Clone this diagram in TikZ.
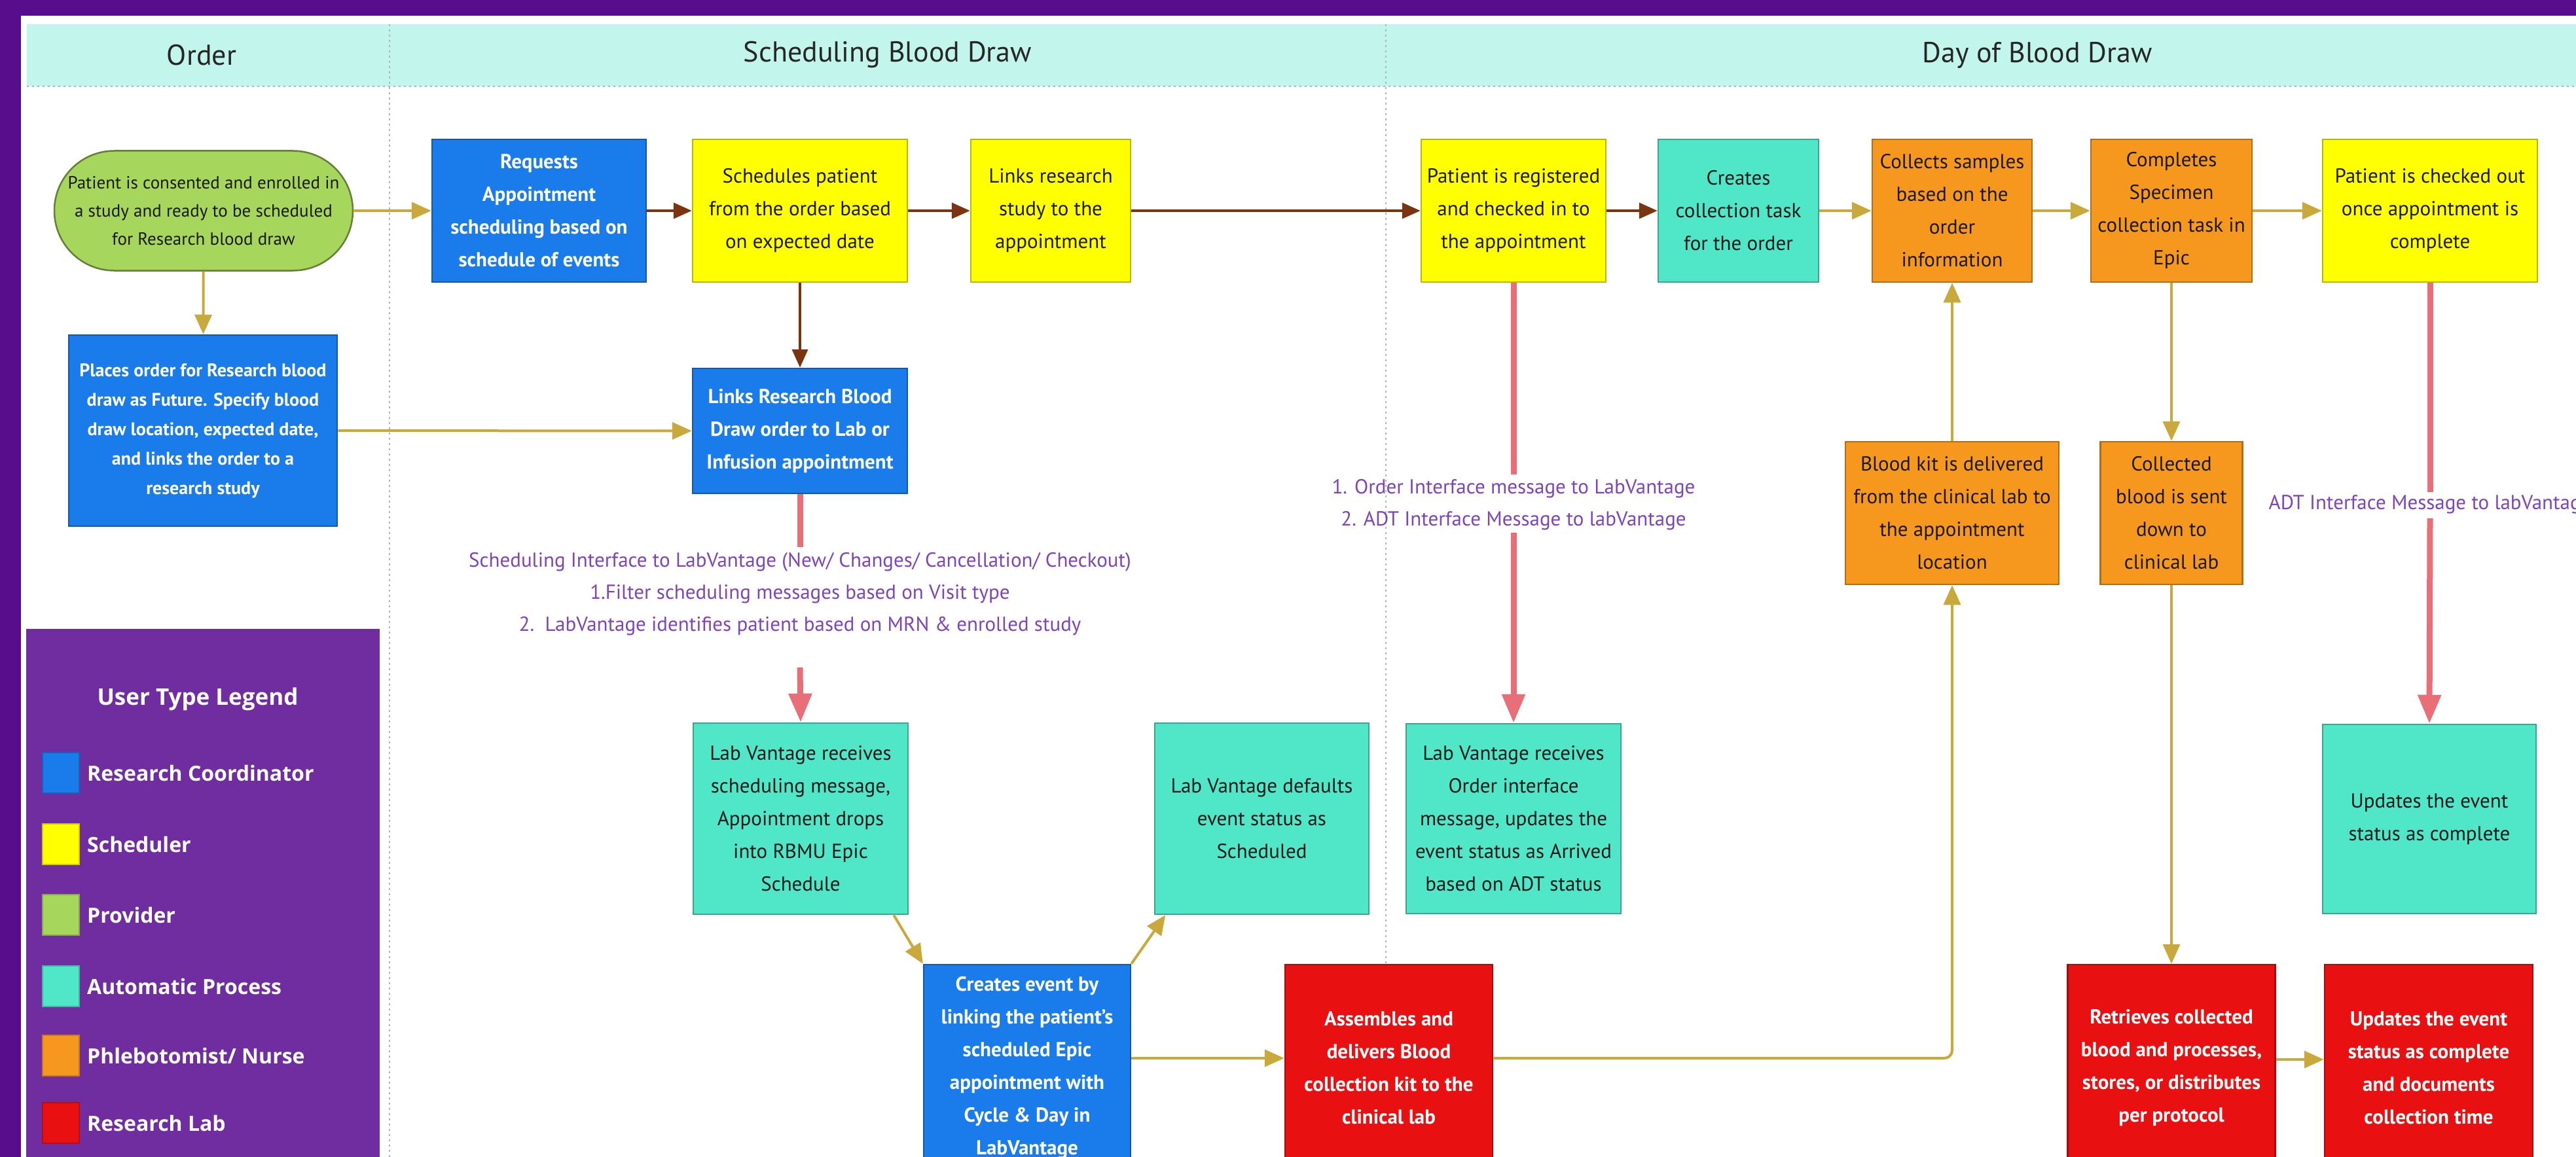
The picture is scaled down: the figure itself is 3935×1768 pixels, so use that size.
\documentclass[tikz,border=0pt]{standalone}
\usepackage{fontspec}
\setmainfont{PT Sans}
\newfontfamily\legfont{Open Sans}
\usetikzlibrary{arrows.meta,shapes.misc}

\definecolor{framec}{RGB}{88,14,140}
\definecolor{hdrc}{RGB}{194,245,235}
\definecolor{cblue}{RGB}{26,123,234}
\definecolor{cyel}{RGB}{255,255,0}
\definecolor{cteal}{RGB}{80,230,200}
\definecolor{corange}{RGB}{247,152,30}
\definecolor{cred}{RGB}{232,16,16}
\definecolor{cgreen}{RGB}{166,214,92}
\definecolor{legc}{RGB}{111,45,160}
\definecolor{goldc}{RGB}{201,168,60}
\definecolor{brownc}{RGB}{122,53,16}
\definecolor{salmonc}{RGB}{232,111,120}
\definecolor{lblc}{RGB}{126,68,184}
\definecolor{divc}{RGB}{170,182,196}

\tikzset{
  boxbase/.style={draw=#1!72!black, fill=#1, line width=2.5pt, inner sep=0pt, align=center},
  lightbox/.style={boxbase=#1, text=black!90, font=\fontsize{31}{50}\selectfont},
  darkbox/.style={boxbase=#1, text=white, font=\fontsize{31}{50}\selectfont\bfseries},
  hdrtxt/.style={font=\fontsize{44}{50}\selectfont, text=black!85},
  lbl/.style={font=\fontsize{31}{49}\selectfont, text=lblc, align=center, inner sep=0pt},
  goldarr/.style={draw=goldc, line width=4pt, -{Triangle[length=30pt,width=26pt]}},
  brownarr/.style={draw=brownc, line width=4pt, -{Triangle[length=28pt,width=24pt]}},
  redline/.style={draw=salmonc, line width=9pt},
  redarr/.style={redline, -{Triangle[length=44pt,width=34pt]}},
  divline/.style={draw=divc, line width=2.5pt, dash pattern=on 3pt off 5pt},
  legsq/.style={draw=#1!80!black, fill=#1, line width=2pt, minimum width=56pt, minimum height=62pt, inner sep=0pt},
  legtxt/.style={font=\legfont\fontsize{32}{38}\selectfont\bfseries, text=white, anchor=west, inner sep=0pt}
}

\begin{document}
\begin{tikzpicture}[x=1pt,y=-1pt]
\useasboundingbox (0,0) rectangle (3935,1768);
% frame and header
\fill[framec] (0,0) rectangle (3935,1768);
\fill[white] (32,24) rectangle (3935,1768);
\fill[hdrc] (41,37) rectangle (3935,132);
\draw[divline] (41,132) -- (3935,132);
\draw[divline] (595,37) -- (595,1768);
\draw[divline] (2117,37) -- (2117,1768);
\node[hdrtxt] (hOrder) at (308,84) {Order};
\node[hdrtxt] (hSched) at (1356,84) {Scheduling Blood Draw};
\node[hdrtxt] (hDay) at (3112,84) {Day of Blood Draw};

% legend
\fill[legc] (40,961) rectangle (580,1768);
\node[font=\legfont\fontsize{35}{40}\selectfont\bfseries, text=white] (legtitle) at (302,1068) {User Type Legend};
\node[legsq=cblue] (sq1) at (93,1181) {};
\node[legtxt] (lt1) at (133,1181) {Research Coordinator};
\node[legsq=cyel] (sq2) at (93,1290) {};
\node[legtxt] (lt2) at (133,1290) {Scheduler};
\node[legsq=cgreen] (sq3) at (93,1398) {};
\node[legtxt] (lt3) at (133,1398) {Provider};
\node[legsq=cteal] (sq4) at (93,1507) {};
\node[legtxt] (lt4) at (133,1507) {Automatic Process};
\node[legsq=corange] (sq5) at (93,1613) {};
\node[legtxt] (lt5) at (133,1613) {Phlebotomist/ Nurse};
\node[legsq=cred] (sq6) at (93,1716) {};
\node[legtxt] (lt6) at (133,1716) {Research Lab};

% nodes
\node[rounded rectangle, draw=cgreen!60!black, fill=cgreen, line width=2.5pt, minimum width=456pt, minimum height=183pt, inner sep=0pt, align=center, text=black!90, font=\fontsize{27}{43}\selectfont] (ell) at (311,322) {Patient is consented and enrolled in\\a study and ready to be scheduled\\for Research blood draw};
\node[darkbox=cblue, minimum width=410pt, minimum height=292pt, font=\fontsize{28}{45}\selectfont\bfseries] (plc) at (310,658) {Places order for Research blood\\draw as Future. Specify blood\\draw location, expected date,\\and links the order to a\\research study};

\node[darkbox=cblue, minimum width=327pt, minimum height=218pt] (req) at (823.5,322) {Requests\\Appointment\\scheduling based on\\schedule of events};
\node[lightbox=cyel, minimum width=328pt, minimum height=218pt] (sch) at (1222,322) {Schedules patient\\from the order based\\on expected date};
\node[lightbox=cyel, minimum width=244pt, minimum height=218pt] (lrs) at (1605,322) {Links research\\study to the\\appointment};
\node[darkbox=cblue, minimum width=328pt, minimum height=191pt] (lrb) at (1222,658.5) {Links Research Blood\\Draw order to Lab or\\Infusion appointment};
\node[lightbox=cteal, minimum width=328pt, minimum height=292pt] (lvs) at (1223,1251) {Lab Vantage receives\\scheduling message,\\Appointment drops\\into RBMU Epic\\Schedule};
\node[lightbox=cteal, minimum width=327pt, minimum height=292pt] (lvd) at (1927.5,1251) {Lab Vantage defaults\\event status as\\Scheduled};
\node[darkbox=cblue, minimum width=316pt, minimum height=316pt] (cev) at (1569,1632) {Creates event by\\linking the patient's\\scheduled Epic\\appointment with\\Cycle \& Day in\\LabVantage};
\node[darkbox=cred, minimum width=317pt, minimum height=316pt] (asm) at (2121.5,1632) {Assembles and\\delivers Blood\\collection kit to the\\clinical lab};

\node[lightbox=cyel, minimum width=282pt, minimum height=218pt] (preg) at (2312,322) {Patient is registered\\and checked in to\\the appointment};
\node[lightbox=cteal, minimum width=245pt, minimum height=218pt] (cct) at (2655.5,322) {Creates\\collection task\\for the order};
\node[lightbox=corange, minimum width=244pt, minimum height=218pt] (col) at (2982,322) {Collects samples\\based on the\\order\\information};
\node[lightbox=corange, minimum width=246pt, minimum height=218pt] (cmp) at (3317,322) {Completes\\Specimen\\collection task in\\Epic};
\node[lightbox=cyel, minimum width=328pt, minimum height=218pt] (chk) at (3712,322) {Patient is checked out\\once appointment is\\complete};
\node[lightbox=cteal, minimum width=328pt, minimum height=290pt] (lvo) at (2312,1251) {Lab Vantage receives\\Order interface\\message, updates the\\event status as Arrived\\based on ADT status};
\node[lightbox=corange, minimum width=326pt, minimum height=218pt] (bkt) at (2982,784) {Blood kit is delivered\\from the clinical lab to\\the appointment\\location};
\node[lightbox=corange, minimum width=217pt, minimum height=218pt] (cbl) at (3317,784) {Collected\\blood is sent\\down to\\clinical lab};
\node[lightbox=cteal, minimum width=326pt, minimum height=289pt] (upt) at (3711,1251.5) {Updates the event\\status as complete};
\node[darkbox=cred, minimum width=317pt, minimum height=316pt] (ret) at (3317,1632) {Retrieves collected\\blood and processes,\\stores, or distributes\\per protocol};
\node[darkbox=cred, minimum width=318pt, minimum height=316pt] (upr) at (3710,1632) {Updates the event\\status as complete\\and documents\\collection time};

% labels
\node[lbl] (l1) at (1222,908) {Scheduling Interface to LabVantage (New/ Changes/ Cancellation/ Checkout)\\1.Filter scheduling messages based on Visit type\\2.\ \ LabVantage identifies patient based on MRN \& enrolled study};
\node[lbl] (l2) at (2312,771) {1. Order Interface message to LabVantage\\2. ADT Interface Message to labVantage};
\node[lbl] (l3) at (3712,771) {ADT Interface Message to labVantage};

\coordinate (r1a) at (1222,836);
\coordinate (r1b) at (1222,1020);
\coordinate (r2a) at (2312,725);
\coordinate (r2b) at (2312,814);
\coordinate (r3a) at (3712,752);
\coordinate (r3b) at (3712,792);

% connectors
\draw[goldarr] (ell) -- (req);
\draw[brownarr] (req) -- (sch);
\draw[brownarr] (sch) -- (lrs);
\draw[brownarr] (lrs) -- (preg);
\draw[brownarr] (preg) -- (cct);
\draw[goldarr] (cct) -- (col);
\draw[goldarr] (col) -- (cmp);
\draw[goldarr] (cmp) -- (chk);
\draw[goldarr] (ell) -- (plc);
\draw[goldarr] (plc) -- (lrb);
\draw[brownarr] (sch) -- (lrb);
\draw[redline] (lrb.south) -- (r1a);
\draw[redarr] (r1b) -- (lvs.north);
\draw[redline] (preg.south) -- (r2a);
\draw[redarr] (r2b) -- (lvo.north);
\draw[redline] (chk.south) -- (r3a);
\draw[redarr] (r3b) -- (upt.north);
\draw[goldarr] (lvs.-46) -- (cev.north west) ;
\draw[goldarr] (cev.north east) -- (lvd.-135);
\draw[goldarr] (cev.east |- 0,1617) -- (asm.west |- 0,1617);
\draw[goldarr, rounded corners=12pt] (asm.east |- 0,1617) -| (bkt.south);
\draw[goldarr] (bkt) -- (col);
\draw[goldarr] (cmp) -- (cbl);
\draw[goldarr] (cbl) -- (ret);
\draw[goldarr] (ret.east |- 0,1619) -- (upr.west |- 0,1619);
\end{tikzpicture}
\end{document}
